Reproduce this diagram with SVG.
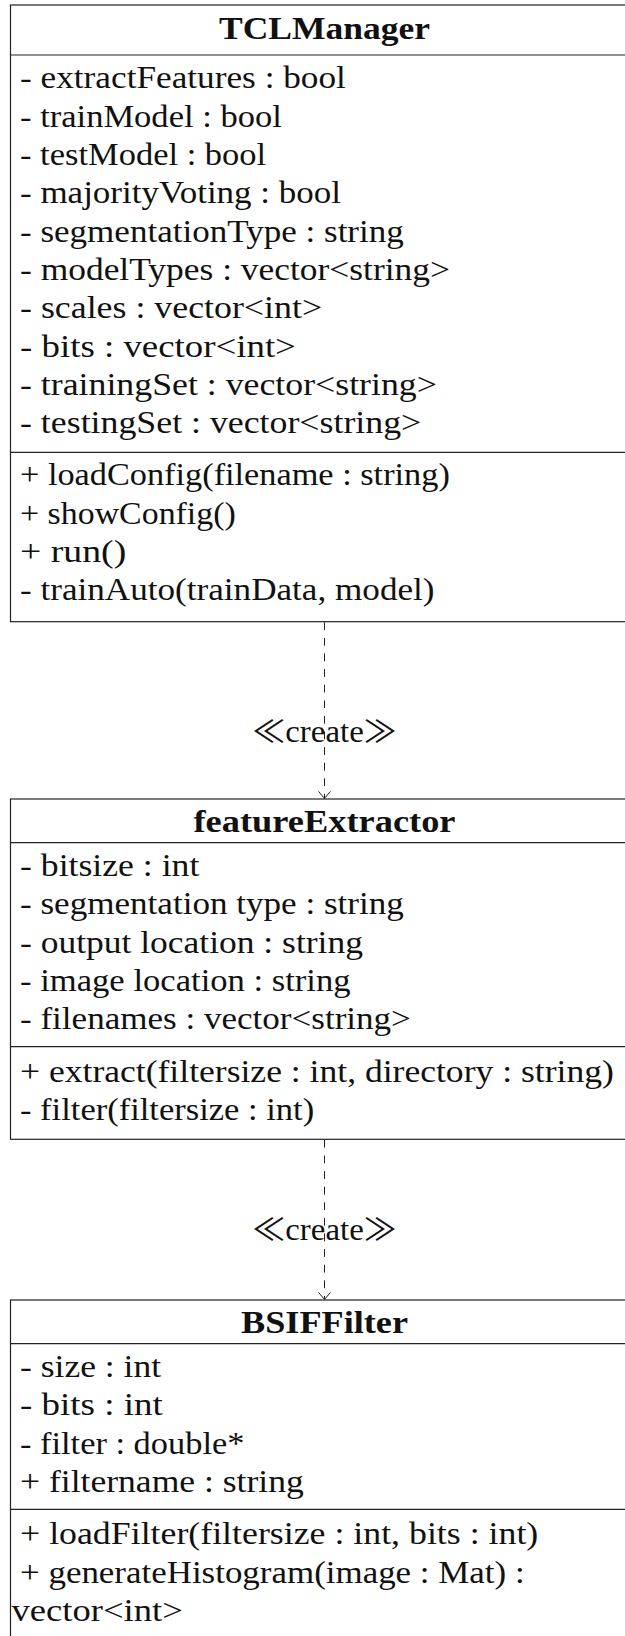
<svg xmlns="http://www.w3.org/2000/svg" width="625" height="1636" viewBox="0 0 625 1636">
  <style>
    .box { fill: #ffffff; stroke: #222222; stroke-width: 1.2; }
    .rule { stroke: #222222; stroke-width: 1.2; }
    .t { font-family: "Liberation Serif", "Times New Roman", serif; font-size: 31px; fill: #111111; }
    .title { font-family: "Liberation Serif", "Times New Roman", serif; font-size: 31px; font-weight: bold; fill: #111111; text-anchor: middle; }
    .lbl { font-family: "Liberation Serif", "Noto Sans CJK JP", serif; font-size: 31px; fill: #111111; text-anchor: middle; }
    .dep { stroke: #222222; stroke-width: 1; stroke-dasharray: 7.8 7.8; fill: none; }
  </style>
  <defs>
    <marker id="openArrow" viewBox="-1 -7 10 14" refX="8" refY="0" markerWidth="10" markerHeight="14" markerUnits="userSpaceOnUse" orient="auto">
      <path d="M 1 -6 L 8 0 L 1 6" fill="none" stroke="#222222" stroke-width="1"/>
    </marker>
  </defs>

  <rect width="625" height="1636" fill="#ffffff"/>

  <!-- TCLManager class -->
  <g id="TCLManager">
    <rect class="box" x="10.5" y="5" width="640" height="616.7"/>
    <line class="rule" x1="10.5" y1="55" x2="650.5" y2="55"/>
    <line class="rule" x1="10.5" y1="452.3" x2="650.5" y2="452.3"/>
    <text class="title" x="324.5" y="38.5" textLength="211" lengthAdjust="spacingAndGlyphs">TCLManager</text>
    <text class="t" x="20" y="88.3" textLength="325.9" lengthAdjust="spacingAndGlyphs">- extractFeatures : bool</text>
    <text class="t" x="20" y="126.6" textLength="261.8" lengthAdjust="spacingAndGlyphs">- trainModel : bool</text>
    <text class="t" x="20" y="165" textLength="246.2" lengthAdjust="spacingAndGlyphs">- testModel : bool</text>
    <text class="t" x="20" y="203.3" textLength="321" lengthAdjust="spacingAndGlyphs">- majorityVoting : bool</text>
    <text class="t" x="20" y="241.6" textLength="383.8" lengthAdjust="spacingAndGlyphs">- segmentationType : string</text>
    <text class="t" x="20" y="280" textLength="430" lengthAdjust="spacingAndGlyphs">- modelTypes : vector&lt;string&gt;</text>
    <text class="t" x="20" y="318.3" textLength="302.1" lengthAdjust="spacingAndGlyphs">- scales : vector&lt;int&gt;</text>
    <text class="t" x="20" y="356.6" textLength="275.9" lengthAdjust="spacingAndGlyphs">- bits : vector&lt;int&gt;</text>
    <text class="t" x="20" y="395" textLength="416.9" lengthAdjust="spacingAndGlyphs">- trainingSet : vector&lt;string&gt;</text>
    <text class="t" x="20" y="433.3" textLength="401.3" lengthAdjust="spacingAndGlyphs">- testingSet : vector&lt;string&gt;</text>
    <text class="t" x="20" y="485.3" textLength="429.8" lengthAdjust="spacingAndGlyphs">+ loadConfig(filename : string)</text>
    <text class="t" x="20" y="523.6" textLength="215.8" lengthAdjust="spacingAndGlyphs">+ showConfig()</text>
    <text class="t" x="20" y="562" textLength="106.2" lengthAdjust="spacingAndGlyphs">+ run()</text>
    <text class="t" x="20" y="600.3" textLength="414.5" lengthAdjust="spacingAndGlyphs">- trainAuto(trainData, model)</text>
  </g>

  <!-- featureExtractor class -->
  <g id="featureExtractor">
    <rect class="box" x="10.5" y="799" width="640" height="340.3"/>
    <line class="rule" x1="10.5" y1="842.7" x2="650.5" y2="842.7"/>
    <line class="rule" x1="10.5" y1="1046.7" x2="650.5" y2="1046.7"/>
    <text class="title" x="324.5" y="831.5" textLength="262" lengthAdjust="spacingAndGlyphs">featureExtractor</text>
    <text class="t" x="20" y="876" textLength="179.3" lengthAdjust="spacingAndGlyphs">- bitsize : int</text>
    <text class="t" x="20" y="914.3" textLength="383.8" lengthAdjust="spacingAndGlyphs">- segmentation type : string</text>
    <text class="t" x="20" y="952.6" textLength="342.9" lengthAdjust="spacingAndGlyphs">- output location : string</text>
    <text class="t" x="20" y="990.9" textLength="330.6" lengthAdjust="spacingAndGlyphs">- image location : string</text>
    <text class="t" x="20" y="1029.2" textLength="390.9" lengthAdjust="spacingAndGlyphs">- filenames : vector&lt;string&gt;</text>
    <text class="t" x="20" y="1081.7" textLength="593.8" lengthAdjust="spacingAndGlyphs">+ extract(filtersize : int, directory : string)</text>
    <text class="t" x="20" y="1120" textLength="294.2" lengthAdjust="spacingAndGlyphs">- filter(filtersize : int)</text>
  </g>

  <!-- BSIFFilter class -->
  <g id="BSIFFilter">
    <rect class="box" x="10.5" y="1300" width="640" height="380"/>
    <line class="rule" x1="10.5" y1="1343.7" x2="650.5" y2="1343.7"/>
    <line class="rule" x1="10.5" y1="1509.4" x2="650.5" y2="1509.4"/>
    <text class="title" x="324.5" y="1332.5" textLength="167" lengthAdjust="spacingAndGlyphs">BSIFFilter</text>
    <text class="t" x="20" y="1377" textLength="141" lengthAdjust="spacingAndGlyphs">- size : int</text>
    <text class="t" x="20" y="1415.3" textLength="142.8" lengthAdjust="spacingAndGlyphs">- bits : int</text>
    <text class="t" x="20" y="1453.6" textLength="224.4" lengthAdjust="spacingAndGlyphs">- filter : double*</text>
    <text class="t" x="20" y="1491.9" textLength="283.8" lengthAdjust="spacingAndGlyphs">+ filtername : string</text>
    <text class="t" x="20" y="1544.4" textLength="518.3" lengthAdjust="spacingAndGlyphs">+ loadFilter(filtersize : int, bits : int)</text>
    <text class="t" x="20" y="1582.7" textLength="504.6" lengthAdjust="spacingAndGlyphs">+ generateHistogram(image : Mat) :</text>
    <text class="t" x="11.5" y="1621" textLength="171.4" lengthAdjust="spacingAndGlyphs">vector&lt;int&gt;</text>
  </g>

  <!-- create dependencies -->
  <g id="connectors">
    <text class="lbl" x="324.5" y="741.7" textLength="144.4" lengthAdjust="spacingAndGlyphs">≪create≫</text>
    <line class="dep" x1="324.5" y1="622.3" x2="324.5" y2="798.4" marker-end="url(#openArrow)"/>
    <text class="lbl" x="324.5" y="1240" textLength="144.4" lengthAdjust="spacingAndGlyphs">≪create≫</text>
    <line class="dep" x1="324.5" y1="1139.9" x2="324.5" y2="1299.4" marker-end="url(#openArrow)"/>
  </g>
</svg>
